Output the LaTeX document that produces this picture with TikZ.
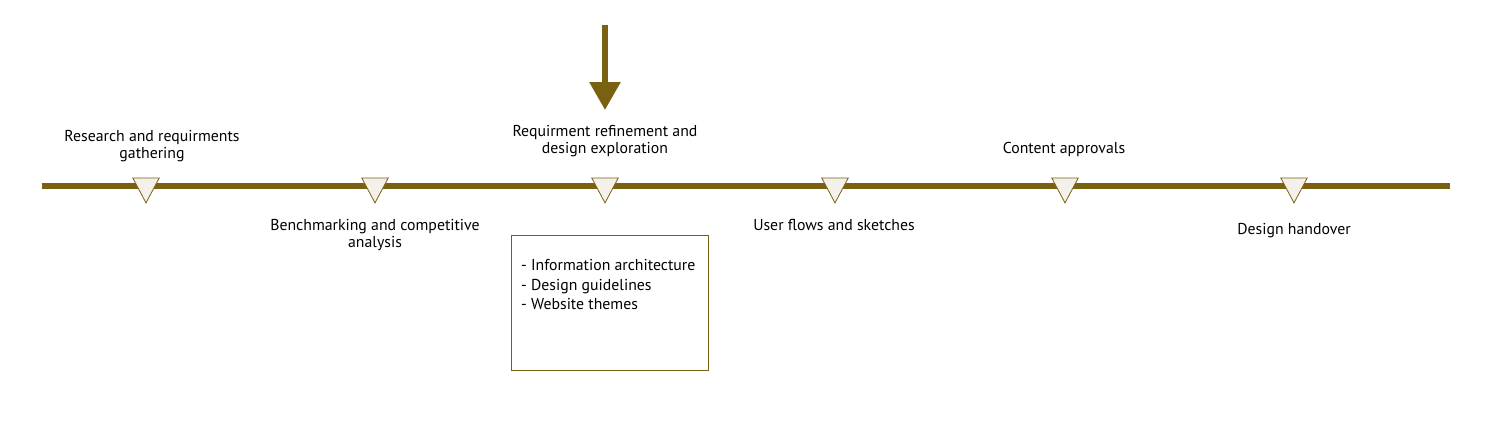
\documentclass[tikz,border=0pt]{standalone}
\usepackage{fontspec}
\setmainfont{PT Sans}
\usepackage{tikz}
\usetikzlibrary{arrows.meta,positioning,shapes.geometric}
\definecolor{olivebrown}{HTML}{7A6112}
\definecolor{markfill}{HTML}{F4F1EA}
\tikzstyle{milestone}=[isosceles triangle, shape border rotate=-90, isosceles triangle apex angle=56,
  minimum height=25pt, inner sep=0pt, draw=olivebrown, line width=.8pt, fill=markfill, anchor=north]
\tikzstyle{phase}=[align=center, font=\fontsize{15.8}{17}\selectfont, inner sep=0pt]
\tikzstyle{notes}=[draw=olivebrown, line width=.8pt, minimum width=197pt, minimum height=135pt,
  anchor=north west, inner sep=0pt]

\begin{document}
\begin{tikzpicture}[x=1pt,y=-1pt]
    \useasboundingbox (0,0) rectangle (1502,426);

    % Timeline
    \coordinate (start) at (42,186);
    \coordinate (end) at (1450,186);
    \draw[olivebrown,line width=6pt] (start) -- (end);

    % Milestones
    \foreach \x/\n in {146/m1,375/m2,605/m3,835/m4,1065/m5,1294/m6}
        \node[milestone] (\n) at (\x,177.5) {};

    % Phases
    \node[phase] (research) at (152,146.5) {Research and requirments\\gathering};
    \node[phase] (bench) at (375,235.5) {Benchmarking and competitive\\analysis};
    \node[phase] (refine) at (605,141.5) {Requirment refinement and\\design exploration};
    \node[phase] (flows) at (834,224.5) {User flows and sketches};
    \node[phase] (content) at (1064,149.5) {Content approvals};
    \node[phase] (handover) at (1294,230.5) {Design handover};

    % Current phase
    \coordinate (pointer) at (605,25);
    \coordinate (tip) at (605,110);
    \draw[olivebrown,line width=6pt,-{Triangle[length=28pt,width=30pt]}] (pointer) -- (tip);

    % Deliverables
    \node[notes] (box) at (511,235) {};
    \node[phase,align=left,anchor=north west,font=\fontsize{15.8}{19.5}\selectfont] (items) at (521,259.5)
        {- Information architecture\\- Design guidelines\\- Website themes};

\end{tikzpicture}
\end{document}
